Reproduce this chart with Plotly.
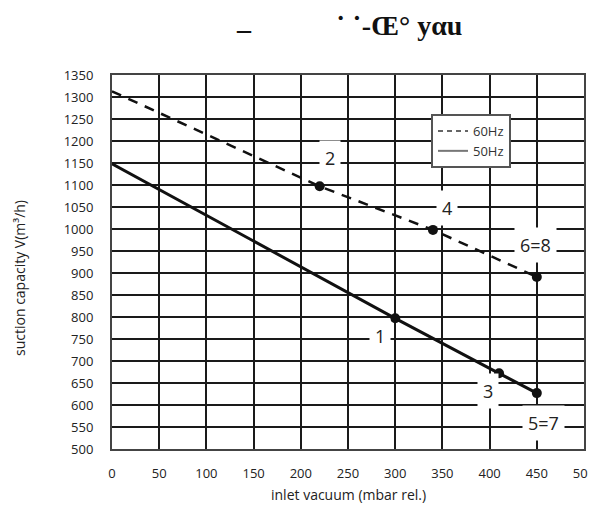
import plotly.graph_objects as go

# data
x60 = [0, 220, 340, 450]
y60 = [1313, 1097, 998, 891]
x50 = [0, 300, 410, 450]
y50 = [1148, 797, 672, 627]
pts60_x = [220, 340, 450]
pts60_y = [1097, 998, 891]
pts50_x = [300, 410, 450]
pts50_y = [797, 672, 627]
lab_text = ["2", "4", "6=8", "1", "3", "5=7"]
lab_x = [231, 355, 449, 284, 398, 457]
lab_y = [1161, 1048, 964, 757, 632, 559]
xticks = list(range(0, 501, 50))
yticks = list(range(500, 1351, 50))

FONT = "Open Sans"

# plot area in screen pixels (page body has an 8px margin)
PL, PR, PT, PB = 112, 584, 75, 449
PW, PH = PR - PL, PB - PT
W, H = 588, 498


def px(x):
    return (x - PL) / PW


def py(y):
    return (PB - y) / PH


fig = go.Figure()
fig.add_trace(go.Scatter(x=x60, y=y60, mode="lines", showlegend=False,
                         line=dict(color="#111", width=2.5, dash="10px,8px")))
fig.add_trace(go.Scatter(x=x50, y=y50, mode="lines", showlegend=False,
                         line=dict(color="#111", width=3)))
fig.add_trace(go.Scatter(x=pts60_x + pts50_x, y=pts60_y + pts50_y, mode="markers",
                         showlegend=False, marker=dict(color="#111", size=10)))
# legend entries
fig.add_trace(go.Scatter(x=[None], y=[None], mode="lines", name="60Hz",
                         line=dict(color="#333", width=1.5, dash="5px,4px")))
fig.add_trace(go.Scatter(x=[None], y=[None], mode="lines", name="50Hz",
                         line=dict(color="#777", width=2)))

for t, xx, yy in zip(lab_text, lab_x, lab_y):
    fig.add_annotation(x=xx, y=yy, text=t, showarrow=False, bgcolor="white",
                       borderpad=5, font=dict(family=FONT, size=18, color="#222"))

fig.add_annotation(xref="paper", yref="paper", x=px(244), y=py(29),
                   xanchor="center", yanchor="middle",
                   text="<b>–</b>", showarrow=False,
                   font=dict(family="Liberation Serif", size=28, color="#111"))
fig.add_annotation(xref="paper", yref="paper", x=px(399), y=py(26),
                   xanchor="center", yanchor="middle",
                   text="<b>˙ ˙-Œ° yαu</b>", showarrow=False,
                   font=dict(family="Liberation Serif", size=28, color="#111"))

# axis titles
fig.add_annotation(xref="paper", yref="paper", x=px(348), y=py(494),
                   xanchor="center", yanchor="middle",
                   text="inlet vacuum (mbar rel.)", showarrow=False,
                   font=dict(family=FONT, size=14, color="#222"))
fig.add_annotation(xref="paper", yref="paper", x=px(19), y=py(278),
                   xanchor="center", yanchor="middle",
                   text="suction capacity V(m³/h)", showarrow=False, textangle=-90,
                   font=dict(family=FONT, size=14, color="#222"))

fig.update_layout(
    width=W, height=H,
    margin=dict(l=PL - 8, r=8 + W - PR, t=PT - 8, b=8 + H - PB, autoexpand=False),
    paper_bgcolor="white", plot_bgcolor="white",
    font=dict(family=FONT, size=13, color="#222"),
    showlegend=True,
    legend=dict(x=px(431), y=py(114), xanchor="left", yanchor="top",
                bgcolor="white", bordercolor="#555", borderwidth=2,
                font=dict(family=FONT, size=13, color="#333"),
                itemwidth=30, tracegroupgap=0),
    xaxis=dict(range=[0, 500], tickvals=xticks, showgrid=True, gridcolor="#1a1a1a",
               gridwidth=2, zeroline=False, showline=True, linecolor="#444", linewidth=2,
               mirror=True, ticks="", ticklabelstandoff=11, automargin=False,
               ticklabeloverflow="allow",
               tickfont=dict(family=FONT, size=13)),
    yaxis=dict(range=[500, 1350], tickvals=yticks, showgrid=True, gridcolor="#1a1a1a",
               gridwidth=2, zeroline=False, showline=True, linecolor="#444", linewidth=2,
               mirror=True, ticks="", ticklabelstandoff=14, automargin=False,
               tickfont=dict(family=FONT, size=13)),
)

fig.write_html("out.html")
